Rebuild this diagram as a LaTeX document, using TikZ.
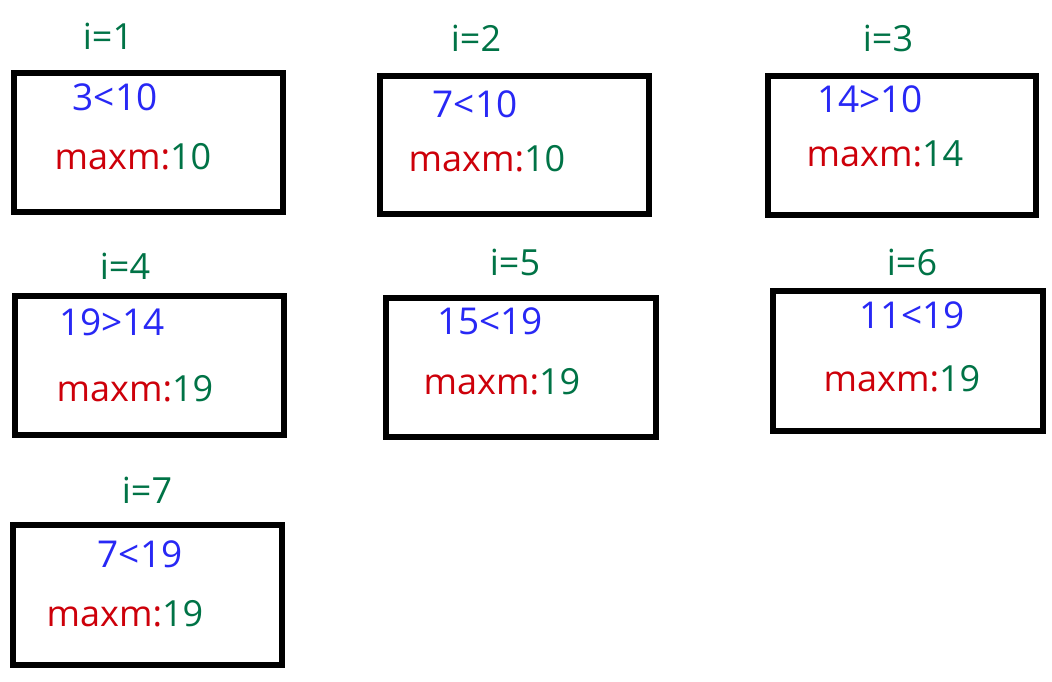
\documentclass[tikz,border=0pt]{standalone}
\usepackage{fontspec}
\setmainfont{Open Sans}
\definecolor{hgreen}{RGB}{0,115,70}
\definecolor{hblue}{RGB}{40,40,245}
\definecolor{hred}{RGB}{205,0,10}
\begin{document}
\begin{tikzpicture}[x=1pt,y=-1pt,
  frame/.style={draw=black,line width=5.5pt,rectangle},
  idx/.style={text=hgreen,font=\fontsize{36}{40}\selectfont},
  cmp/.style={text=hblue,font=\fontsize{37}{40}\selectfont},
  mx/.style={font=\fontsize{36}{40}\selectfont}]
\useasboundingbox[fill=white] (0,0) rectangle (1052,682);
% boxes
\draw[frame] (14,73) rectangle (283,212);
\draw[frame] (380,76) rectangle (649,214);
\draw[frame] (768,76) rectangle (1036,215);
\draw[frame] (15,296) rectangle (284,435);
\draw[frame] (386,298) rectangle (656,437);
\draw[frame] (773,291) rectangle (1043,431);
\draw[frame] (13,525) rectangle (282,665);
% indices
\node[idx] (i1) at (108,36) {i=1};
\node[idx] (i2) at (476,38) {i=2};
\node[idx] (i3) at (888,38) {i=3};
\node[idx] (i4) at (125,266) {i=4};
\node[idx] (i5) at (515,262) {i=5};
\node[idx] (i6) at (912,262) {i=6};
\node[idx] (i7) at (147,490) {i=7};
% comparisons
\node[cmp] (c1) at (115,97) {3<10};
\node[cmp] (c2) at (475,104) {7<10};
\node[cmp] (c3) at (870,99) {14>10};
\node[cmp] (c4) at (112,322) {19>14};
\node[cmp] (c5) at (490,321) {15<19};
\node[cmp] (c6) at (912,315) {11<19};
\node[cmp] (c7) at (140,554) {7<19};
% maxm
\node[mx] (m1) at (133,157) {\textcolor{hred}{maxm:}\textcolor{hgreen}{10}};
\node[mx] (m2) at (487,159) {\textcolor{hred}{maxm:}\textcolor{hgreen}{10}};
\node[mx] (m3) at (885,154) {\textcolor{hred}{maxm:}\textcolor{hgreen}{14}};
\node[mx] (m4) at (135,389) {\textcolor{hred}{maxm:}\textcolor{hgreen}{19}};
\node[mx] (m5) at (502,382) {\textcolor{hred}{maxm:}\textcolor{hgreen}{19}};
\node[mx] (m6) at (902,379) {\textcolor{hred}{maxm:}\textcolor{hgreen}{19}};
\node[mx] (m7) at (125,614) {\textcolor{hred}{maxm:}\textcolor{hgreen}{19}};
\end{tikzpicture}
\end{document}
